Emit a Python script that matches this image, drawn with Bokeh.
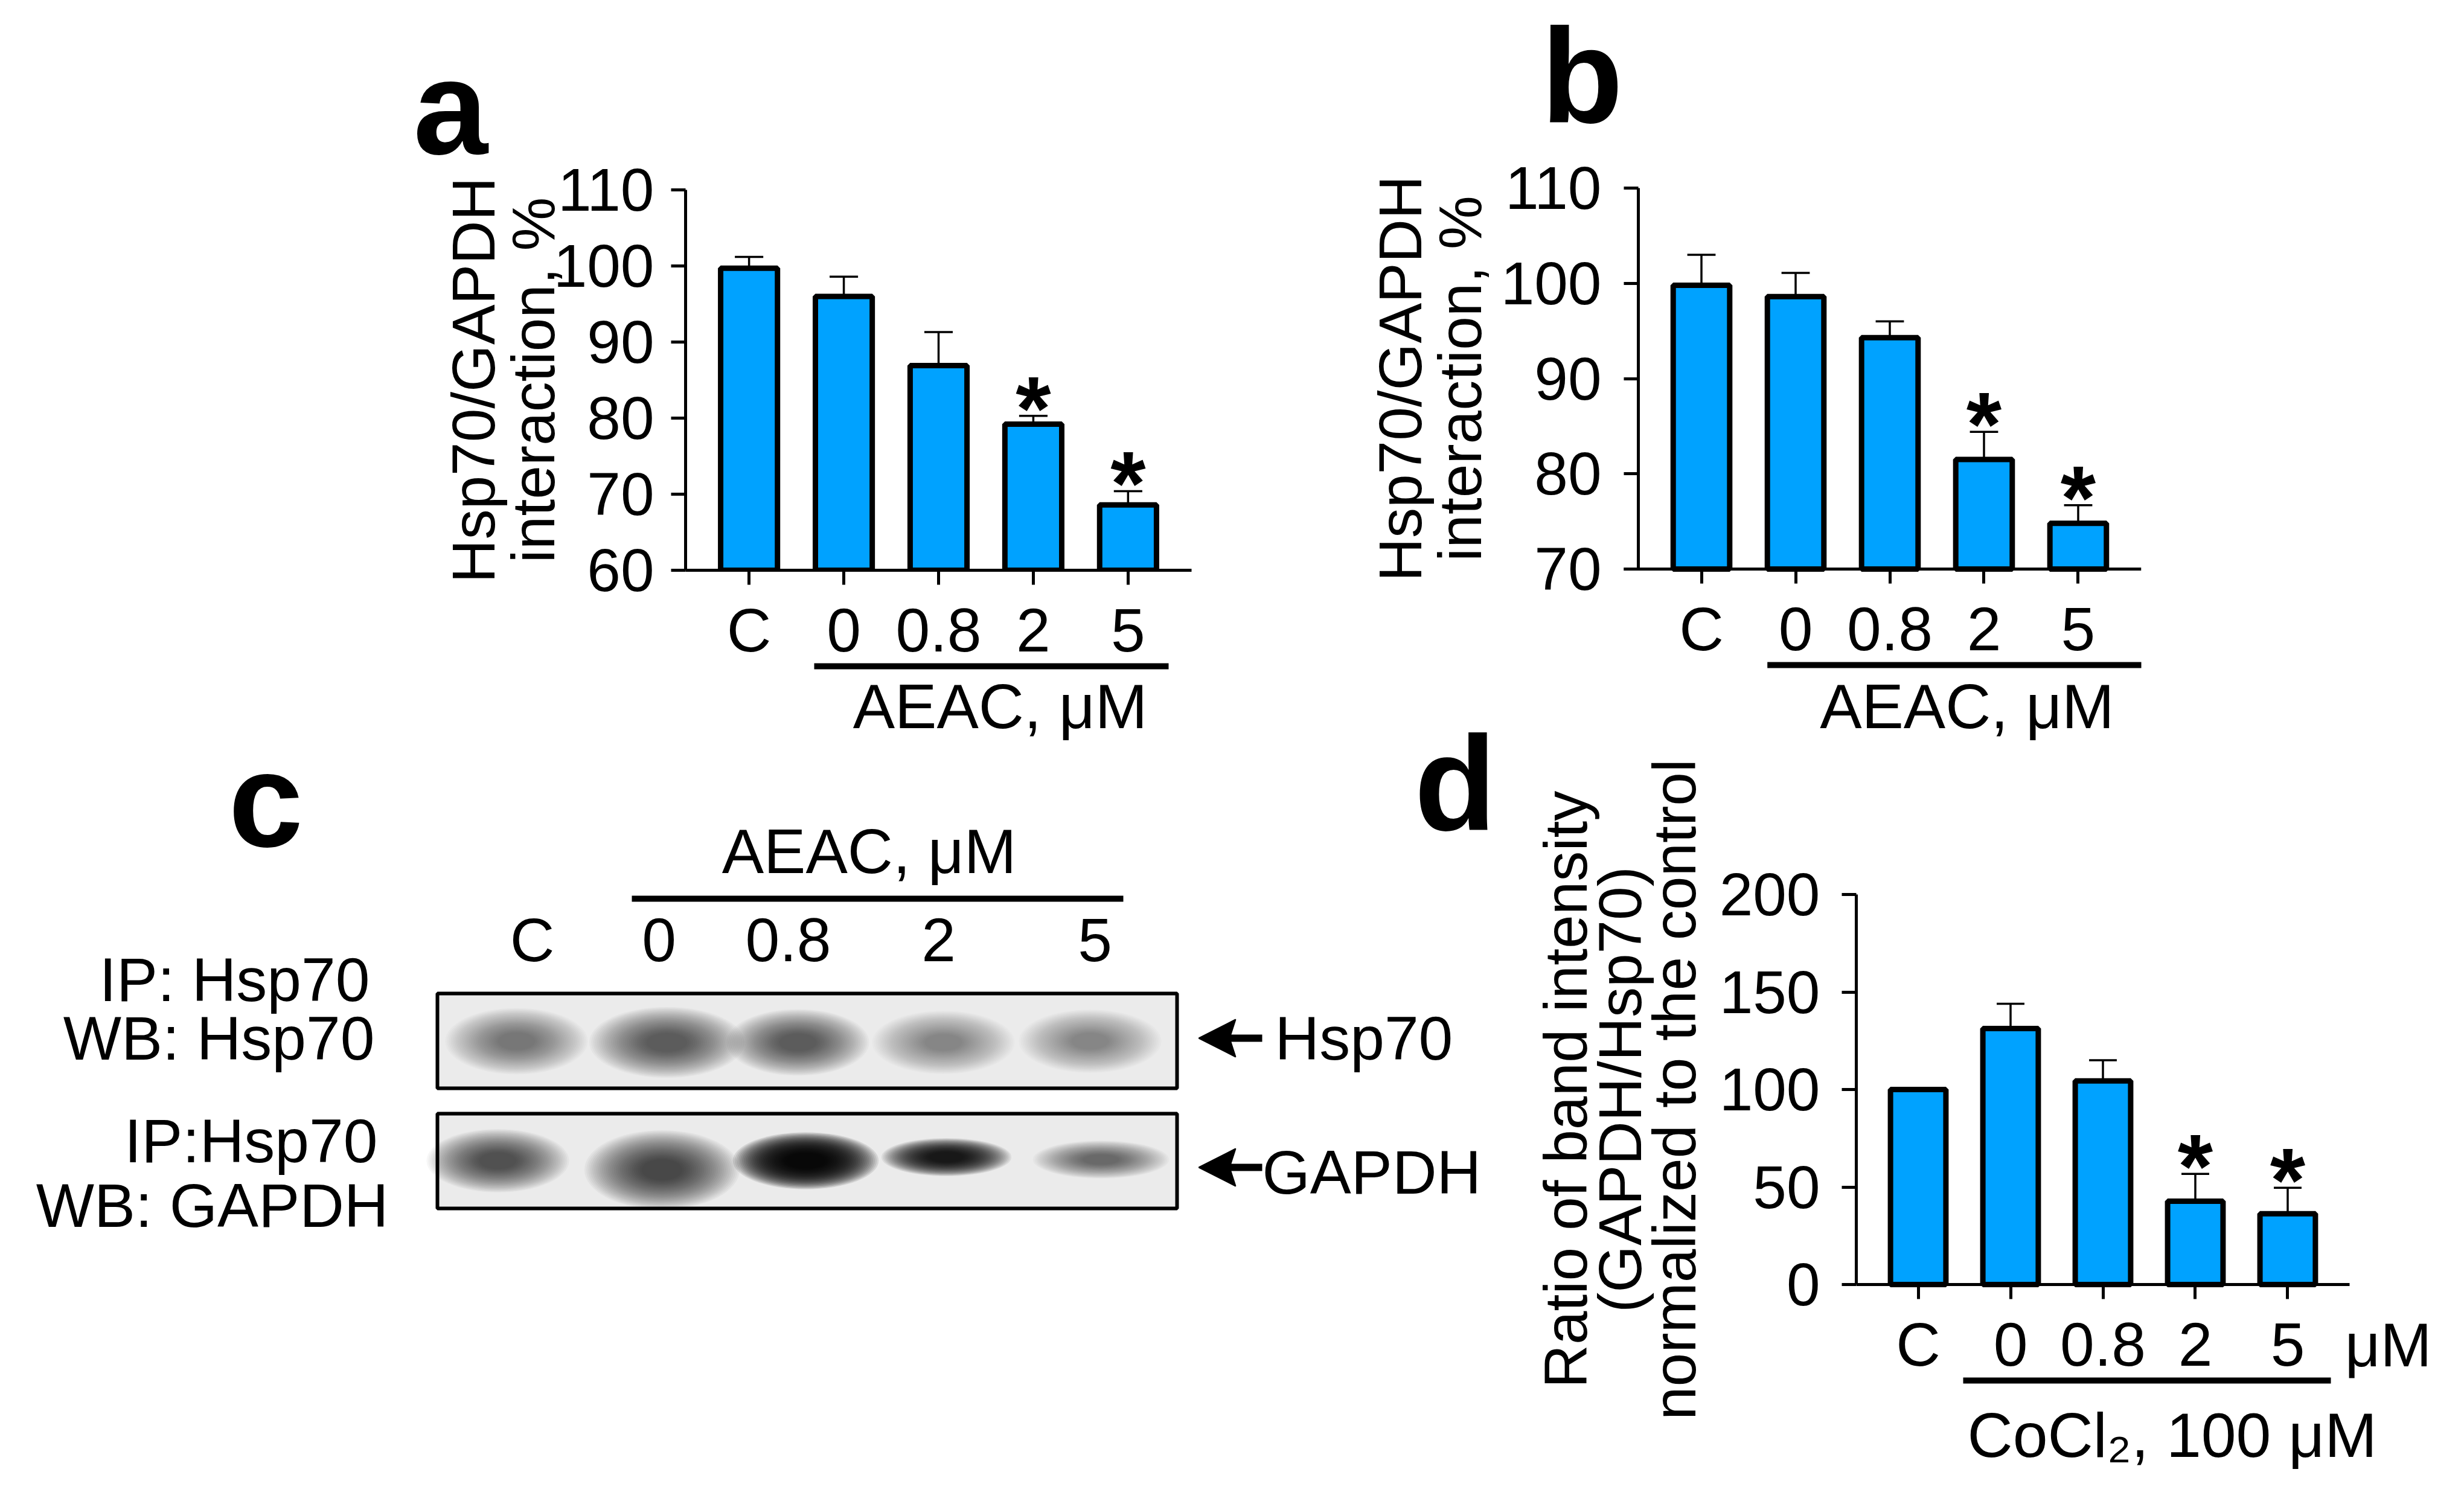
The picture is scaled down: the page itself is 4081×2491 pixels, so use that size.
from bokeh.plotting import figure
from bokeh.models import Range1d, LinearAxis, FixedTicker
from bokeh.layouts import column, row
from bokeh.embed import file_html
from bokeh.resources import INLINE
from bokeh.core.properties import value

FONT = "Liberation Sans"
BAR_COLOR = "#00A2FF"
BASE_FIX = 0.35   # svg text sits ~0.35em low with an alphabetic baseline

# ---------------- data ----------------
groups = ["C", "0", "0.8", "2", "5"]

a_mean = [99.7, 96.0, 86.9, 79.2, 68.6]
a_err = [1.5, 2.6, 4.4, 1.1, 1.8]
a_sig = [0, 0, 0, 1, 1]
a_yticks = [60, 70, 80, 90, 100, 110]

b_mean = [99.8, 98.6, 94.3, 81.5, 74.8]
b_err = [3.2, 2.5, 1.7, 2.9, 1.9]
b_sig = [0, 0, 0, 1, 1]
b_yticks = [70, 80, 90, 100, 110]

d_mean = [100.0, 131.3, 104.4, 42.7, 36.3]
d_err = [0.0, 12.7, 10.6, 14.0, 13.3]
d_sig = [0, 0, 0, 1, 1]
d_yticks = [0, 50, 100, 150, 200]

blot_lanes = ["C", "0", "0.8", "2", "5"]
hsp70_band = [0.29, 0.43, 0.46, 0.13, 0.13]
gapdh_band = [0.53, 0.61, 1.0, 0.89, 0.40]

XPAD = 0.67
LETTER = 222


def bar_panel(W, H, FL, FT, FR, FB, ylo, yhi, yticks, mean, err, sig,
              ylabel, lab_lh, lab_standoff, tick_standoff,
              grp_label, br, grp_center, grp_standoff,
              ext_top=0, ext_bot=0, ext_right=0, ext_left=0, grp_glyph=None):
    n = len(groups)
    xs = list(range(n))
    XLO, XHI = -XPAD, n - 1 + XPAD
    ppu_x = (FR - FL) / (XHI - XLO)
    ppu_y = (FB - FT) / (yhi - ylo)
    x_end = XHI + ext_right / ppu_x
    x_start = XLO - ext_left / ppu_x
    p = figure(width=W, height=H, x_range=Range1d(x_start, x_end),
               y_range=Range1d(ylo - ext_bot / ppu_y, yhi + ext_top / ppu_y),
               output_backend="svg", toolbar_location=None, frame_align=False,
               min_border_left=FL - ext_left, min_border_top=FT - ext_top,
               min_border_right=W - FR - ext_right, min_border_bottom=H - FB - ext_bot)
    p.outline_line_color = None
    p.xgrid.visible = False
    p.ygrid.visible = False

    p.vbar(x=xs, top=mean, bottom=ylo, width=0.6, fill_color=BAR_COLOR,
           line_color="black", line_width=9)
    ex = [x for x, e in zip(xs, err) if e > 0]
    ey0 = [m for m, e in zip(mean, err) if e > 0]
    ey1 = [m + e for m, e in zip(mean, err) if e > 0]
    p.segment(x0=ex, y0=ey0, x1=ex, y1=ey1, line_color="black", line_width=3.5)
    p.segment(x0=[x - 0.15 for x in ex], y0=ey1, x1=[x + 0.15 for x in ex], y1=ey1,
              line_color="black", line_width=3.5)

    sx = [x for x, s in zip(xs, sig) if s]
    sy = [m + e + 12 / ppu_y for m, e, s in zip(mean, err, sig) if s]
    p.text(x=sx, y=sy, text=["*"] * len(sx), text_align="center", text_baseline="alphabetic",
           text_font=value(FONT), text_font_size="150px", text_font_style="bold",
           text_color="black")

    xa = p.xaxis[0]
    xa.ticker = FixedTicker(ticks=xs)
    xa.major_label_overrides = {x: g for x, g in zip(xs, groups)}
    xa.bounds = (XLO - 24 / ppu_x, XHI)
    if ext_bot:
        xa.fixed_location = ylo
    xa.major_tick_out = 24
    xa.major_tick_in = 0
    xa.minor_tick_out = 0
    xa.minor_tick_in = 0
    xa.axis_line_width = 5
    xa.major_tick_line_width = 5
    xa.major_label_text_font = FONT
    xa.major_label_text_font_size = "102px"
    xa.major_label_text_color = "black"
    xa.major_label_standoff = 18

    ya = p.yaxis[0]
    ya.ticker = FixedTicker(ticks=yticks)
    ya.bounds = (ylo, yhi)
    if ext_left:
        ya.fixed_location = XLO
    ya.major_tick_out = 24
    ya.major_tick_in = 0
    ya.minor_tick_out = 0
    ya.minor_tick_in = 0
    ya.axis_line_width = 5
    ya.major_tick_line_width = 5
    ya.major_label_text_font = FONT
    ya.major_label_text_font_size = "100px"
    ya.major_label_text_color = "black"
    ya.major_label_standoff = tick_standoff
    ya.axis_label = ylabel
    ya.axis_label_text_font = FONT
    ya.axis_label_text_font_size = "100px"
    ya.axis_label_text_font_style = "normal"
    ya.axis_label_text_color = "black"
    ya.axis_label_text_line_height = lab_lh
    ya.axis_label_standoff = lab_standoff

    if grp_glyph is None:
        # group bracket: an extra axis whose line spans the treated groups,
        # the group name is its single tick label
        p.extra_x_ranges = {"grp": Range1d(x_start - grp_center, x_end - grp_center)}
        ga = LinearAxis(x_range_name="grp", ticker=FixedTicker(ticks=[0]),
                        major_label_overrides={0: grp_label},
                        bounds=(br[0] - grp_center, br[1] - grp_center),
                        axis_line_width=10, axis_line_color="black",
                        major_tick_out=0, major_tick_in=0, minor_tick_out=0, minor_tick_in=0,
                        major_tick_line_color=None,
                        major_label_text_font=FONT, major_label_text_font_size="104px",
                        major_label_text_color="black", major_label_standoff=grp_standoff)
        p.add_layout(ga, "below")
    else:
        line_px, base_px = grp_glyph
        yb = ylo - line_px / ppu_y
        p.segment(x0=[br[0]], y0=[yb], x1=[br[1]], y1=[yb], line_color="black", line_width=10)
        p.text(x=[grp_center], y=[ylo - (base_px - BASE_FIX * 104) / ppu_y], text=[grp_label],
               text_font=value(FONT), text_font_size="104px", text_align="center",
               text_baseline="alphabetic", text_color="black")
    return p, (XLO, ylo, FL, FB, ppu_x, ppu_y)


fa, _ = bar_panel(2092, 1232, 1135, 314, 1973, 944, 60, 110, a_yticks, a_mean, a_err, a_sig,
                  "Hsp70/GAPDH\ninteraction, %", 0.88, -25, 28,
                  "AEAC, \u03bcM", (0.69, 4.43), 2.65, 8)
fa.title.text = "a"
fa.title.text_font = FONT
fa.title.text_font_size = f"{LETTER}px"
fa.title.text_font_style = "bold"
fa.title.text_color = "black"
fa.title.align = "left"
fa.title.offset = 684 - 1135
fa.title.standoff = 26

fb, bg = bar_panel(1973, 1232, 621, 311, 1454, 942, 70, 110, b_yticks, b_mean, b_err, b_sig,
                   "Hsp70/GAPDH\ninteraction, %", 0.88, 9, 37,
                   "AEAC, \u03bcM", (0.70, 4.75), 2.82, 8,
                   ext_top=311, ext_bot=290, ext_left=621, grp_glyph=(159, 264))
XLO_b, ylo_b, FL_b, FB_b, ppx_b, ppy_b = bg
fb.text(x=[XLO_b + (460 - FL_b) / ppx_b],
        y=[ylo_b + (FB_b - (203 - BASE_FIX * LETTER)) / ppy_b],
        text=["b"], text_font=value(FONT), text_font_size=f"{LETTER}px",
        text_font_style="bold", text_align="left", text_baseline="alphabetic", text_color="black")

FD_W, FD_H = 1573, 1243
fd, dg = bar_panel(FD_W, FD_H, 582, 249, 1399, 895, 0, 200, d_yticks, d_mean, d_err, d_sig,
                   "Ratio of band intensity\n(GAPDH/Hsp70)\nnormalized to the control", 0.8, 16, 36,
                   "CoCl\u2082, 100 \u03bcM", (0.49, 4.47), 2.75, 32,
                   ext_top=159, ext_bot=159, ext_right=146)
# unit label at the end of the dose labels of panel d
XLO_d, ylo_d, FL_d, FB_d, ppx_d, ppy_d = dg
fd.text(x=[XLO_d + (1463 - FL_d) / ppx_d], y=[ylo_d + (FB_d - (1031 - BASE_FIX * 102)) / ppy_d],
        text=["\u03bcM"], text_font=value(FONT), text_font_size="102px",
        text_align="center", text_baseline="alphabetic", text_color="black")

# ---------------- panel c : western blot ----------------
CY = 70                       # panel c reaches 70px up into the first row
CW, CH = 2492, 1243 + CY
fc = figure(width=CW, height=CH, x_range=Range1d(0, CW), y_range=Range1d(CH, 0),
            x_axis_type=None, y_axis_type=None, output_backend="svg",
            toolbar_location=None, min_border=0, frame_align=False,
            margin=(-CY, 0, 0, 0))
fc.outline_line_color = None
fc.background_fill_alpha = 0
fc.border_fill_alpha = 0
fc.xgrid.visible = False
fc.ygrid.visible = False

BOX_L, BOX_R = 724, 1949
TOP_BOX = (413 + CY, 570 + CY)
BOT_BOX = (612 + CY, 769 + CY)
for (t, b) in (TOP_BOX, BOT_BOX):
    fc.quad(left=[BOX_L], right=[BOX_R], top=[t], bottom=[b], fill_color="#EBEBEB", line_color=None)

top_x = [855, 1104, 1321, 1562, 1805]
top_y = [v + CY for v in [492, 494, 494, 494, 492]]
top_w = [225, 245, 225, 225, 225]
top_h = [105, 112, 105, 100, 100]
bot_x = [824, 1096, 1334, 1567, 1823]
bot_y = [v + CY for v in [690, 705, 690, 684, 688]]
bot_w = [225, 245, 230, 205, 215]
bot_h = [100, 125, 90, 60, 60]

NL = 30


def draw_bands(xc, yc, ww, hh, inten):
    for k in range(NL):
        f = 1.05 - 0.8 * k / NL
        xs_, ys_, ws_, hs_, al_ = [], [], [], [], []
        for x, y, w, h, it in zip(xc, yc, ww, hh, inten):
            tgt = min(0.985, 0.25 + 0.7 * it)
            a = 1 - (1 - tgt) ** (1.0 / NL)
            xs_.append(x); ys_.append(y); ws_.append(w * f); hs_.append(h * f); al_.append(a)
        fc.ellipse(x=xs_, y=ys_, width=ws_, height=hs_, fill_color="black", fill_alpha=al_,
                   line_color=None)


draw_bands(top_x, top_y, top_w, top_h, hsp70_band)
draw_bands(bot_x, bot_y, bot_w, bot_h, gapdh_band)
for (t, b) in (TOP_BOX, BOT_BOX):
    fc.quad(left=[BOX_L], right=[BOX_R], top=[t], bottom=[b], fill_color=None,
            line_color="black", line_width=6)


def ctext(x, y, txt, size, align, bold=False):
    fc.text(x=x, y=[v + CY - BASE_FIX * size for v in y], text=txt, text_font=value(FONT),
            text_font_size=f"{size}px", text_font_style="bold" if bold else "normal",
            text_align=align, text_baseline="alphabetic", text_color="black")


ctext([1439], [214], ["AEAC, \u03bcM"], 104, "center")
fc.segment(x0=[1046], y0=[256 + CY], x1=[1860], y1=[256 + CY], line_color="black", line_width=10)
lane_x = [881, 1091, 1305, 1554, 1813]
ctext(lane_x, [360] * len(lane_x), blot_lanes, 102, "center")
ctext([612, 620, 625, 643], [426, 523, 693, 800],
      ["IP: Hsp70", "WB: Hsp70", "IP:Hsp70", "WB: GAPDH"], 102, "right")
# arrows pointing at the bands
for yy in (487 + CY, 701 + CY):
    fc.segment(x0=[2025], y0=[yy], x1=[2090], y1=[yy], line_color="black", line_width=12)
    fc.patch(x=[1985, 2046, 2036, 2046], y=[yy, yy - 31, yy, yy + 31], fill_color="black",
             line_color="black", line_width=2)
ctext([2111, 2090], [523, 745], ["Hsp70", "GAPDH"], 102, "left")
ctext([378], [170], ["c"], LETTER, "left", bold=True)
ctext([2342], [143], ["d"], LETTER, "left", bold=True)

layout = column(row(fa, fb), row(fc, fd))
open("out.html", "w").write(file_html(layout, INLINE))
